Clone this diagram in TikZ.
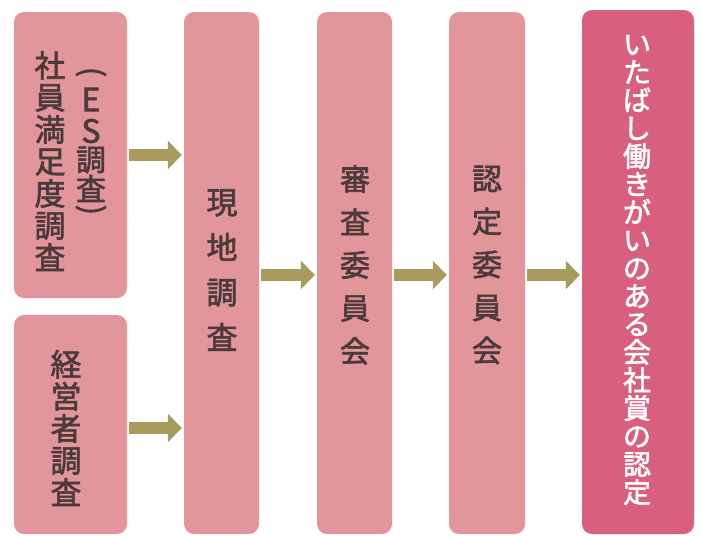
\documentclass[tikz,border=0pt]{standalone}
\usepackage{fontspec}
\newfontfamily\jp[FakeBold=2]{Noto Sans CJK JP}
\usetikzlibrary{arrows.meta}
\definecolor{boxpink}{HTML}{E2959B}
\definecolor{boxdeep}{HTML}{D8607E}
\definecolor{arrowol}{HTML}{A99B5C}
\definecolor{txtc}{HTML}{4A3A3C}
\begin{document}
\begin{tikzpicture}[x=1pt,y=-1pt,
  stage/.style={draw=none, fill=boxpink, rounded corners=10pt, inner sep=0pt},
  finalstage/.style={stage, fill=boxdeep},
  flow/.style={draw=arrowol, line width=11.5pt, -{Triangle[width=28pt,length=14pt]}, shorten <=2pt, shorten >=2pt},
  vtxt/.style={text=txtc, align=center, inner sep=0pt},
  ctxt/.style={text=txtc, inner sep=0pt, font=\jp\fontsize{30}{30}\selectfont},
  ltxt/.style={text=txtc, inner sep=0pt, font=\jp\fontsize{32}{32}\selectfont},
  ptxt/.style={text=txtc, inner sep=0pt, rotate=-90, font=\jp\fontsize{30}{30}\selectfont},
]
\useasboundingbox (0,0) rectangle (701,536);
% boxes
\node[stage, minimum width=113pt, minimum height=286pt] (A) at (70.5,155) {};
\node[stage, minimum width=113pt, minimum height=219pt] (B) at (70.5,424.5) {};
\node[stage, minimum width=75pt, minimum height=522pt] (C) at (221.5,273) {};
\node[stage, minimum width=75pt, minimum height=522pt] (D) at (354.5,273) {};
\node[stage, minimum width=76pt, minimum height=522pt] (E) at (487,273) {};
\node[finalstage, minimum width=112pt, minimum height=524pt] (F) at (638,272) {};
% texts
\node[vtxt, font=\jp\fontsize{31}{32}\selectfont] (tA) at (50,161) {社\\員\\満\\足\\度\\調\\査};
\node[ptxt] (p1) at (91,72) {(};
\node[ltxt] (p2) at (91,99.5) {E};
\node[ltxt] (p3) at (91,131) {S};
\node[ctxt] (p4) at (91,160) {調};
\node[ctxt] (p5) at (91,188.5) {査};
\node[ptxt] (p6) at (91,210) {)};
\node[vtxt, font=\jp\fontsize{31}{32}\selectfont] (tB) at (66,428) {経\\営\\者\\調\\査};
\node[vtxt, font=\jp\fontsize{31}{45}\selectfont] (tC) at (222,270) {現\\地\\調\\査};
\node[vtxt, font=\jp\fontsize{30}{43}\selectfont] (tD) at (355,265) {審\\査\\委\\員\\会};
\node[vtxt, font=\jp\fontsize{30}{43}\selectfont] (tE) at (487,265) {認\\定\\委\\員\\会};
\node[vtxt, text=white, font=\jp\fontsize{28}{28}\selectfont] (tF) at (637,270) {い\\た\\ば\\し\\働\\き\\が\\い\\の\\あ\\る\\会\\社\\賞\\の\\認\\定};
% arrows
\draw[flow] (A.east) -- (A.east -| C.west);
\draw[flow] ([yshift=-3.5pt]B.east) -- ([yshift=-3.5pt]B.east -| C.west);
\draw[flow] ([yshift=-2pt]C.east) -- ([yshift=-2pt]C.east -| D.west);
\draw[flow] ([yshift=-2pt]D.east) -- ([yshift=-2pt]D.east -| E.west);
\draw[flow] ([yshift=-2pt]E.east) -- ([yshift=-2pt]E.east -| F.west);
\end{tikzpicture}
\end{document}
